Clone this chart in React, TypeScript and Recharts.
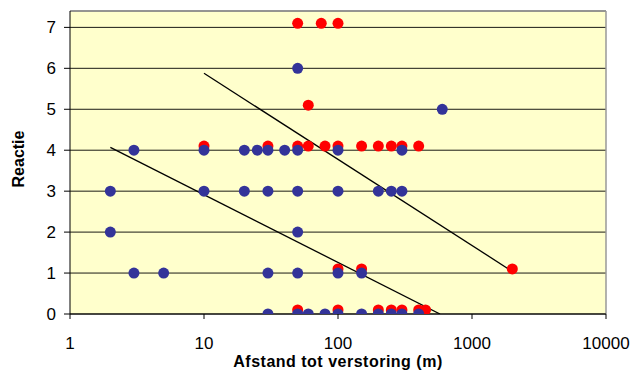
import { ComposedChart, Scatter, Line, XAxis, YAxis, CartesianGrid, ReferenceLine, Label } from 'recharts';

// afstand (m) en reactie
const blueX = [50, 600, 3, 10, 20, 25, 30, 40, 50, 100, 300, 2, 10, 20, 30, 50, 100, 200, 250, 300, 2, 50, 3, 5, 30, 50, 100, 150, 30, 50, 60, 80, 100, 150, 200, 250, 300, 400];
const blueY = [6, 5, 4, 4, 4, 4, 4, 4, 4, 4, 4, 3, 3, 3, 3, 3, 3, 3, 3, 3, 2, 2, 1, 1, 1, 1, 1, 1, 0, 0, 0, 0, 0, 0, 0, 0, 0, 0];

const redX = [50, 75, 100, 60, 10, 30, 50, 60, 80, 100, 150, 200, 250, 300, 400, 100, 150, 2000, 50, 100, 200, 250, 300, 400, 450];
const redY = [7.1, 7.1, 7.1, 5.1, 4.1, 4.1, 4.1, 4.1, 4.1, 4.1, 4.1, 4.1, 4.1, 4.1, 4.1, 1.1, 1.1, 1.1, 0.1, 0.1, 0.1, 0.1, 0.1, 0.1, 0.1];

// trendlijnen (begin- en eindpunt)
const trend1X = [2, 577];
const trend1Y = [4.07, 0];
const trend2X = [10, 2000];
const trend2Y = [5.88, 1.04];

const xTicks = [1, 10, 100, 1000, 10000];
const yTicks = [0, 1, 2, 3, 4, 5, 6, 7];

const blue = blueX.map((x, i) => ({ x, y: blueY[i] }));
const red = redX.map((x, i) => ({ x, y: redY[i] }));
const trend1 = trend1X.map((x, i) => ({ x, y: trend1Y[i] }));
const trend2 = trend2X.map((x, i) => ({ x, y: trend2Y[i] }));

const font = 'Liberation Sans, Arial, sans-serif';

const dot = (color: string) => (props: any) => (
  <circle cx={props.cx} cy={props.cy} r={5.5} fill={color} />
);

export default function App() {
  return (
    <div style={{ position: 'absolute', left: 0, top: 0, background: '#fff' }}>
      <ComposedChart width={634} height={376} margin={{ top: 11, right: 28, bottom: 0, left: 0 }}>
        <CartesianGrid vertical={false} stroke="#000" fill="#FFFFCC" strokeOpacity={0.9} />
        <XAxis
          dataKey="x"
          type="number"
          scale="log"
          domain={[1, 10000]}
          ticks={xTicks}
          allowDataOverflow
          height={62}
          stroke="#000"
          tickSize={5}
          tickMargin={18}
          tick={{ fill: '#000', fontSize: 17, fontFamily: font }}
        >
          <Label
            content={() => (
              <text
                x={338}
                y={367}
                textAnchor="middle"
                fontSize={16}
                fontWeight="bold"
                fontFamily={font}
                letterSpacing={0.5}
                fill="#000"
              >
                Afstand tot verstoring (m)
              </text>
            )}
          />
        </XAxis>
        <YAxis
          dataKey="y"
          type="number"
          domain={[0, 7.4]}
          ticks={yTicks}
          allowDataOverflow
          width={70}
          stroke="#000"
          tickSize={6}
          tickMargin={8}
          tick={{ fill: '#000', fontSize: 17, fontFamily: font }}
        >
          <Label
            content={() => (
              <text
                x={24}
                y={159}
                transform="rotate(-90, 24, 159)"
                textAnchor="middle"
                fontSize={16}
                fontWeight="bold"
                fontFamily={font}
                fill="#000"
              >
                Reactie
              </text>
            )}
          />
        </YAxis>
        <ReferenceLine y={7.4} stroke="#999" strokeWidth={1.5} />
        <ReferenceLine x={10000} stroke="#999" strokeWidth={1.5} />
        <Scatter data={red} dataKey="y" fill="#FF0000" shape={dot('#FF0000')} isAnimationActive={false} />
        <Scatter data={blue} dataKey="y" fill="#333399" shape={dot('#333399')} isAnimationActive={false} />
        <Line data={trend1} dataKey="y" stroke="#000" strokeWidth={1.3} dot={false} isAnimationActive={false} />
        <Line data={trend2} dataKey="y" stroke="#000" strokeWidth={1.3} dot={false} isAnimationActive={false} />
      </ComposedChart>
    </div>
  );
}
